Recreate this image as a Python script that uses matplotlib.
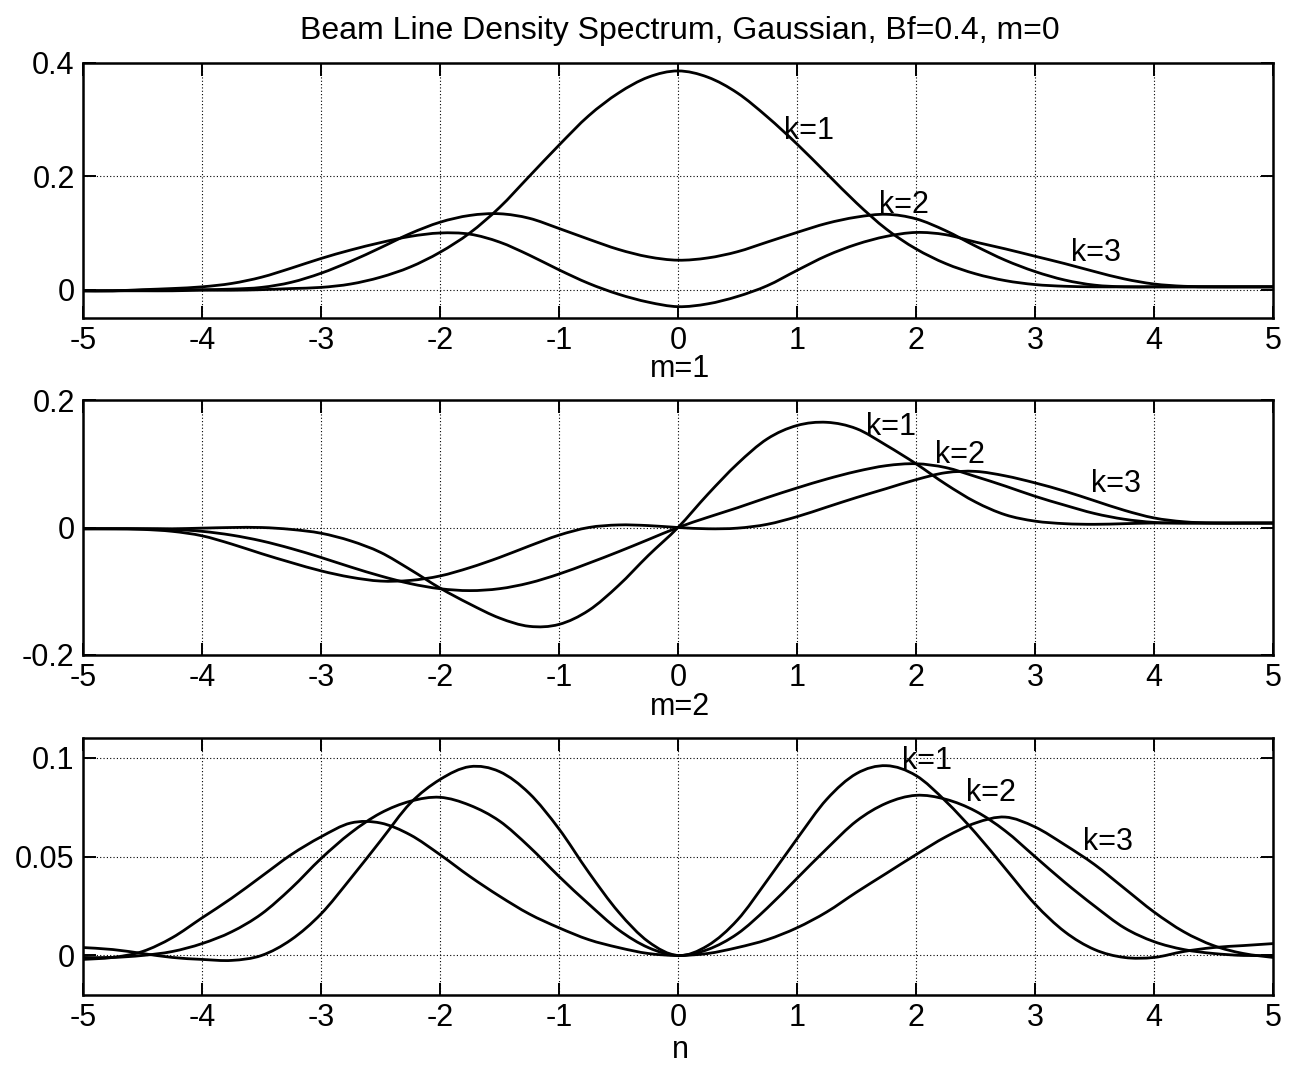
import numpy as np
import matplotlib
matplotlib.use("Agg")
import matplotlib.pyplot as plt
from matplotlib.path import Path
from matplotlib.patches import PathPatch

plt.rcParams['font.family'] = ['Liberation Sans', 'DejaVu Sans']

# harmonic number n, sampled every quarter
n_grid = [-5.0, -4.75, -4.5, -4.25, -4.0, -3.75, -3.5, -3.25, -3.0,
          -2.75, -2.5, -2.25, -2.0, -1.75, -1.5, -1.25, -1.0,
          -0.75, -0.5, -0.25, 0.0,
          0.25, 0.5, 0.75, 1.0, 1.25, 1.5, 1.75, 2.0,
          2.25, 2.5, 2.75, 3.0, 3.25, 3.5, 3.75, 4.0,
          4.25, 4.5, 4.75, 5.0]

# m = 0
m0_k1 = [-0.002, -0.002, -0.002, -0.002, -0.001, -0.001, 0.0, 0.002, 0.004,
         0.010, 0.022, 0.040, 0.066, 0.100, 0.145, 0.200, 0.255,
         0.307, 0.347, 0.375, 0.386,
         0.375, 0.347, 0.305, 0.257, 0.205, 0.153, 0.107, 0.072,
         0.046, 0.028, 0.016, 0.009, 0.006, 0.005, 0.005, 0.005,
         0.005, 0.005, 0.005, 0.005]
m0_k2 = [-0.002, -0.002, -0.001, 0.0, 0.0, 0.001, 0.004, 0.013, 0.029,
         0.050, 0.074, 0.099, 0.119, 0.131, 0.134, 0.126, 0.108,
         0.089, 0.071, 0.058, 0.052,
         0.056, 0.067, 0.084, 0.101, 0.117, 0.128, 0.133, 0.125,
         0.104, 0.077, 0.052, 0.032, 0.017, 0.008, 0.005, 0.005,
         0.005, 0.005, 0.005, 0.005]
m0_k3 = [-0.002, -0.002, 0.0, 0.002, 0.005, 0.011, 0.022, 0.038, 0.055,
         0.070, 0.083, 0.094, 0.100, 0.098, 0.084, 0.061, 0.035,
         0.011, -0.008, -0.022, -0.030,
         -0.025, -0.012, 0.007, 0.034, 0.060, 0.080, 0.094, 0.101,
         0.097, 0.084, 0.072, 0.059, 0.046, 0.032, 0.019, 0.010,
         0.006, 0.005, 0.005, 0.005]

# m = 1
m1_k1 = [-0.002, -0.002, -0.002, -0.002, -0.001, 0.0, 0.0, -0.003, -0.009,
         -0.021, -0.039, -0.066, -0.095, -0.120, -0.142, -0.155, -0.152,
         -0.130, -0.091, -0.044, 0.0,
         0.052, 0.100, 0.139, 0.160, 0.165, 0.155, 0.129, 0.100,
         0.068, 0.040, 0.020, 0.010, 0.006, 0.005, 0.006, 0.007,
         0.007, 0.007, 0.007, 0.007]
m1_k2 = [-0.002, -0.002, -0.002, -0.003, -0.006, -0.012, -0.021, -0.033, -0.047,
         -0.062, -0.076, -0.088, -0.096, -0.099, -0.096, -0.087, -0.073,
         -0.056, -0.038, -0.019, 0.0,
         0.016, 0.031, 0.047, 0.062, 0.076, 0.088, 0.097, 0.100,
         0.094, 0.080, 0.065, 0.049, 0.035, 0.022, 0.013, 0.008,
         0.007, 0.007, 0.007, 0.007]
m1_k3 = [-0.002, -0.002, -0.003, -0.006, -0.013, -0.026, -0.041, -0.055, -0.068,
         -0.078, -0.084, -0.083, -0.076, -0.063, -0.047, -0.029, -0.012,
         0.0, 0.004, 0.003, 0.0,
         -0.002, -0.001, 0.005, 0.017, 0.032, 0.047, 0.061, 0.075,
         0.086, 0.088, 0.081, 0.070, 0.057, 0.042, 0.027, 0.015,
         0.009, 0.007, 0.007, 0.007]

# m = 2
m2_k1 = [0.004, 0.003, 0.001, -0.001, -0.002, -0.0025, 0.0, 0.008, 0.021,
         0.039, 0.058, 0.077, 0.089, 0.0955, 0.093, 0.082, 0.064,
         0.042, 0.022, 0.007, 0.0,
         0.005, 0.018, 0.038, 0.059, 0.079, 0.092, 0.096, 0.091,
         0.078, 0.062, 0.044, 0.026, 0.012, 0.003, -0.001, -0.001,
         0.002, 0.004, 0.005, 0.006]
m2_k2 = [-0.001, -0.001, 0.0, 0.002, 0.006, 0.012, 0.021, 0.034, 0.049,
         0.062, 0.072, 0.078, 0.080, 0.076, 0.068, 0.055, 0.040,
         0.026, 0.013, 0.004, 0.0,
         0.003, 0.011, 0.024, 0.039, 0.054, 0.068, 0.077, 0.081,
         0.079, 0.073, 0.063, 0.050, 0.037, 0.025, 0.014, 0.007,
         0.003, 0.001, 0.0, 0.0]
m2_k3 = [-0.002, -0.001, 0.002, 0.009, 0.019, 0.029, 0.040, 0.051, 0.060,
         0.067, 0.067, 0.061, 0.051, 0.040, 0.030, 0.021, 0.014,
         0.008, 0.004, 0.001, 0.0,
         0.001, 0.004, 0.008, 0.014, 0.022, 0.032, 0.0415, 0.051,
         0.060, 0.067, 0.070, 0.065, 0.056, 0.046, 0.034, 0.022,
         0.012, 0.005, 0.001, -0.001]

x_ticks = [-5, -4, -3, -2, -1, 0, 1, 2, 3, 4, 5]
x_ticklabels = ["-5", "-4", "-3", "-2", "-1", "0", "1", "2", "3", "4", "5"]

panels = [
    dict(series=[m0_k1, m0_k2, m0_k3], ylim=(-0.05, 0.4),
         yticks=[0, 0.2, 0.4], yticklabels=["0", "0.2", "0.4"],
         labels=[(0.89, 0.28), (1.69, 0.149), (3.3, 0.065)]),
    dict(series=[m1_k1, m1_k2, m1_k3], ylim=(-0.2, 0.2),
         yticks=[-0.2, 0, 0.2], yticklabels=["-0.2", "0", "0.2"],
         labels=[(1.58, 0.158), (2.16, 0.114), (3.47, 0.068)]),
    dict(series=[m2_k1, m2_k2, m2_k3], ylim=(-0.02, 0.11),
         yticks=[0, 0.05, 0.1], yticklabels=["0", "0.05", "0.1"],
         labels=[(1.88, 0.0985), (2.42, 0.082), (3.4, 0.0575)]),
]
k_names = ["k=1", "k=2", "k=3"]


def smooth_curve(xs, ys):
    """Bezier path passing through every sample (Catmull-Rom tangents)."""
    pts = np.column_stack([xs, ys]).astype(float)
    ext = np.vstack([pts[0], pts, pts[-1]])
    verts = [pts[0]]
    codes = [Path.MOVETO]
    for i in range(len(pts) - 1):
        p0, p1, p2, p3 = ext[i], ext[i + 1], ext[i + 2], ext[i + 3]
        verts += [p1 + (p2 - p0) / 6.0, p2 - (p3 - p1) / 6.0, p2]
        codes += [Path.CURVE4] * 3
    return Path(verts, codes)


W, H = 1298, 1070
fig = plt.figure(figsize=(W / 100, H / 100), dpi=100)
fig.patch.set_facecolor("white")

# axes boxes in pixels: (top, bottom)
boxes = [(63, 318), (400, 655), (738, 995)]
left_px, right_px = 83, 1273
FS = 22

for p, (top, bot) in zip(panels, boxes):
    ax = fig.add_axes([left_px / W, 1 - bot / H, (right_px - left_px) / W, (bot - top) / H])
    for s in p["series"]:
        ax.add_patch(PathPatch(smooth_curve(n_grid, s), fill=False, edgecolor="black",
                               lw=2.0, joinstyle="round", capstyle="round"))
    ax.set_xlim(-5, 5)
    ax.set_ylim(*p["ylim"])
    ax.set_xticks(x_ticks)
    ax.set_xticklabels(x_ticklabels)
    ax.set_yticks(p["yticks"])
    ax.set_yticklabels(p["yticklabels"])
    ax.grid(True, color="black", lw=0.8, linestyle=(0, (1, 2)))
    ax.tick_params(direction="in", length=9, width=1.4, top=True, right=True,
                   labelsize=FS, pad=6, colors="black")
    for sp in ax.spines.values():
        sp.set_linewidth(1.8)
    for name, (lx, ly) in zip(k_names, p["labels"]):
        ax.text(lx, ly, name, fontsize=FS, ha="left", va="center")

fig.text(680 / W, 1 - 31 / H, "Beam Line Density Spectrum, Gaussian, Bf=0.4, m=0",
         ha="center", va="center", fontsize=23)
fig.text(680 / W, 1 - 369 / H, "m=1", ha="center", va="center", fontsize=FS)
fig.text(680 / W, 1 - 707 / H, "m=2", ha="center", va="center", fontsize=FS)
fig.text(680 / W, 1 - 1050 / H, "n", ha="center", va="center", fontsize=FS)

fig.savefig("out.png", dpi=100)
